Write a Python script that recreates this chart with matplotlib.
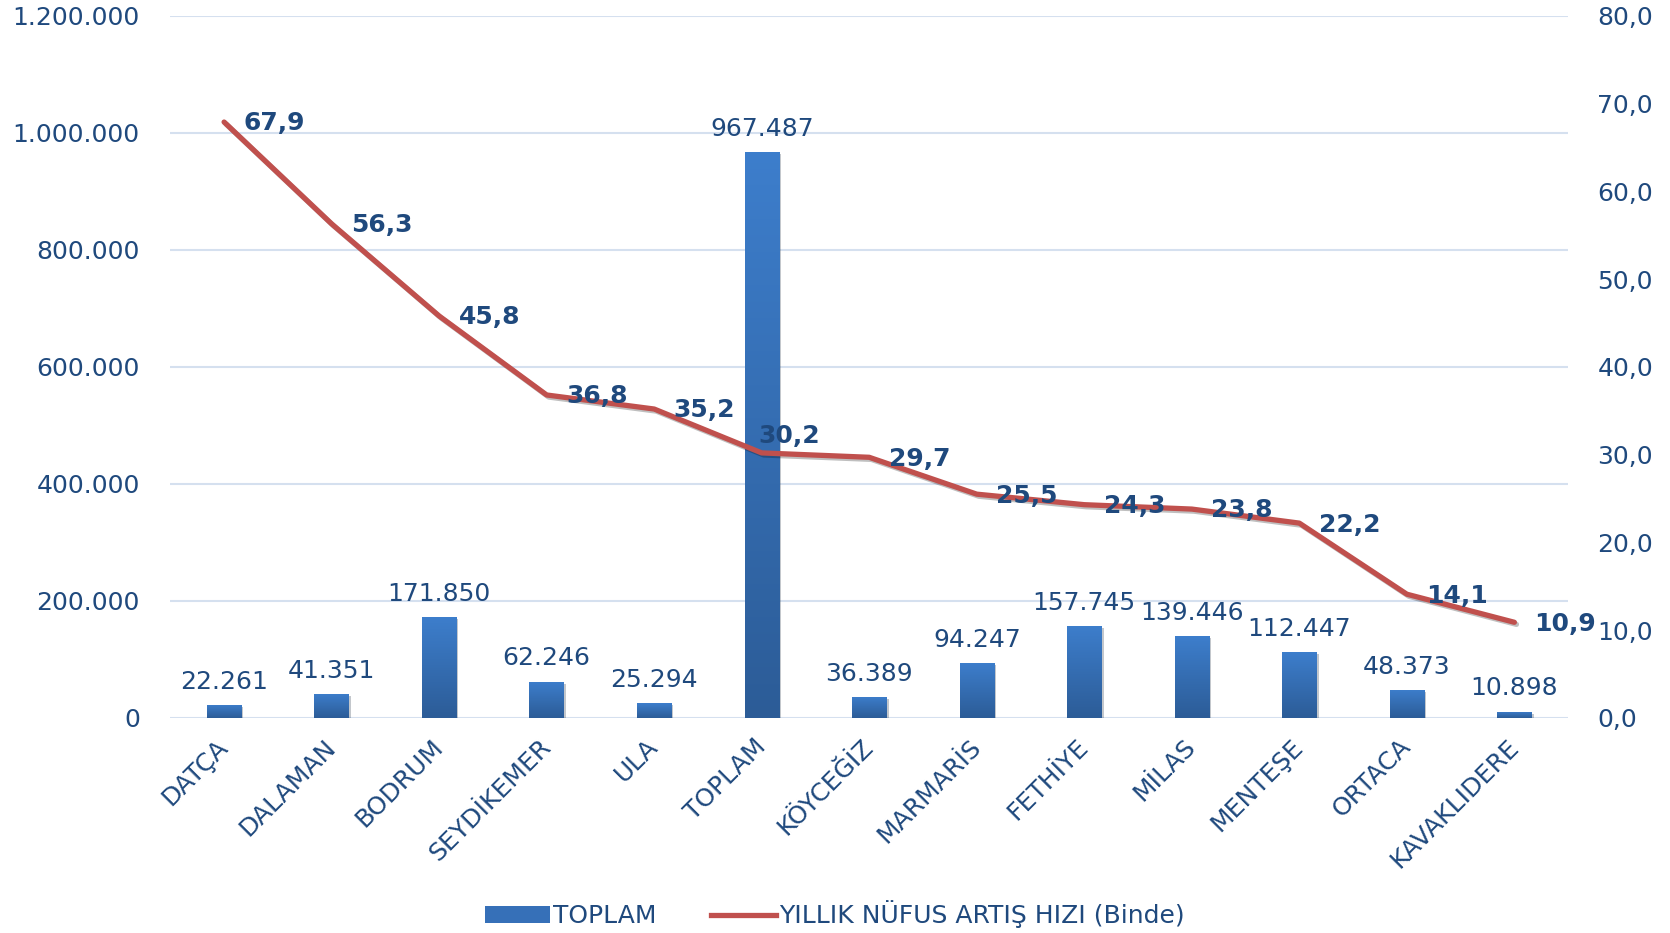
import matplotlib
matplotlib.use("Agg")
import matplotlib.pyplot as plt
import numpy as np
from matplotlib.ticker import FuncFormatter, MultipleLocator
from matplotlib.colors import LinearSegmentedColormap
from matplotlib.patches import Patch
from matplotlib.lines import Line2D
import matplotlib.patheffects as pe
import matplotlib.transforms as mtransforms

categories = ["DATÇA", "DALAMAN", "BODRUM", "SEYDİKEMER", "ULA", "TOPLAM", "KÖYCEĞİZ",
              "MARMARİS", "FETHİYE", "MİLAS", "MENTEŞE", "ORTACA", "KAVAKLIDERE"]
toplam = [22261, 41351, 171850, 62246, 25294, 967487, 36389, 94247, 157745, 139446, 112447, 48373, 10898]
artis = [67.9, 56.3, 45.8, 36.8, 35.2, 30.2, 29.7, 25.5, 24.3, 23.8, 22.2, 14.1, 10.9]

TXT = "#1F497D"
RED = "#C0504D"
FS = 18
plt.rcParams['font.family'] = ['DejaVu Sans']

fig = plt.figure(figsize=(16.7, 9.33), dpi=100)
ax = fig.add_axes([0.102, 0.2305, 0.837, 0.7525])
ax2 = ax.twinx()

x = np.arange(len(categories))
bw = 0.32
bars = ax.bar(x, toplam, width=bw, color="#3670B8", zorder=2)
cmap = LinearSegmentedColormap.from_list("g", ["#2C5C97", "#3D7ECC"])
grad = np.linspace(0, 1, 256).reshape(-1, 1)
for b in bars:
    x0, y0 = b.get_x(), b.get_y()
    w, h = b.get_width(), b.get_height()
    im = ax.imshow(grad, cmap=cmap, origin='lower', aspect='auto',
                   extent=[x0, x0 + w, y0, y0 + h], zorder=2.1)
    im.set_clip_path(b)
    b.set_path_effects([pe.SimplePatchShadow(offset=(1.5, -1.5), alpha=0.25), pe.Normal()])

ax.set_xlim(-0.5, len(categories) - 0.5)
ax.set_ylim(0, 1200000)
ax.yaxis.set_major_locator(MultipleLocator(200000))
ax.yaxis.set_major_formatter(FuncFormatter(lambda v, p: f"{int(v):,}".replace(",", ".")))
ax.grid(axis='y', color="#D5E0EF", linewidth=1.5, zorder=0)
ax.set_axisbelow(True)

for xi, v in zip(x, toplam):
    ax.annotate(f"{v:,}".replace(",", "."), (xi, v), xytext=(0, 8), textcoords='offset points',
                ha='center', va='bottom', fontsize=FS, color=TXT)

ax2.plot(x, artis, color=RED, linewidth=3.8, zorder=3, solid_capstyle='round',
         path_effects=[pe.SimpleLineShadow(offset=(1.5, -1.5), alpha=0.25), pe.Normal()])
ax2.set_ylim(0, 80)
ax2.yaxis.set_major_locator(MultipleLocator(10))
ax2.yaxis.set_major_formatter(FuncFormatter(lambda v, p: f"{v:.1f}".replace(".", ",")))

for i, (xi, v) in enumerate(zip(x, artis)):
    if categories[i] == "TOPLAM":
        off, ha = (20, 12), 'center'
    else:
        off, ha = (14, -1), 'left'
    ax2.annotate(f"{v:.1f}".replace(".", ","), (xi, v), xytext=off, textcoords='offset points',
                 ha=ha, va='center', fontsize=FS, fontweight='bold', color=TXT, zorder=4)

for a in (ax, ax2):
    for s in a.spines.values():
        s.set_visible(False)
    a.tick_params(length=0, labelsize=FS, labelcolor=TXT)
ax.tick_params(axis='y', pad=22)
ax2.tick_params(axis='y', pad=21)

ax.set_xticks(x)
ax.set_xticklabels(categories, rotation=45, ha='right', rotation_mode='anchor', fontsize=FS, color=TXT)
ax.tick_params(axis='x', pad=12)
shift = mtransforms.ScaledTranslation(-8 / 100, 0, fig.dpi_scale_trans)
for lbl in ax.get_xticklabels():
    lbl.set_transform(lbl.get_transform() + shift)

handles = [Patch(facecolor="#3670B8", edgecolor="none"),
           Line2D([0], [0], color=RED, linewidth=3.8)]
fig.legend(handles, ["TOPLAM", "YILLIK NÜFUS ARTIŞ HIZI (Binde)"], loc='center',
           bbox_to_anchor=(0.5, 0.02), ncol=2, frameon=False, fontsize=FS,
           labelcolor=TXT, handlelength=2.6, handletextpad=0.1, columnspacing=2.2)

fig.savefig("out.png", dpi=100)
